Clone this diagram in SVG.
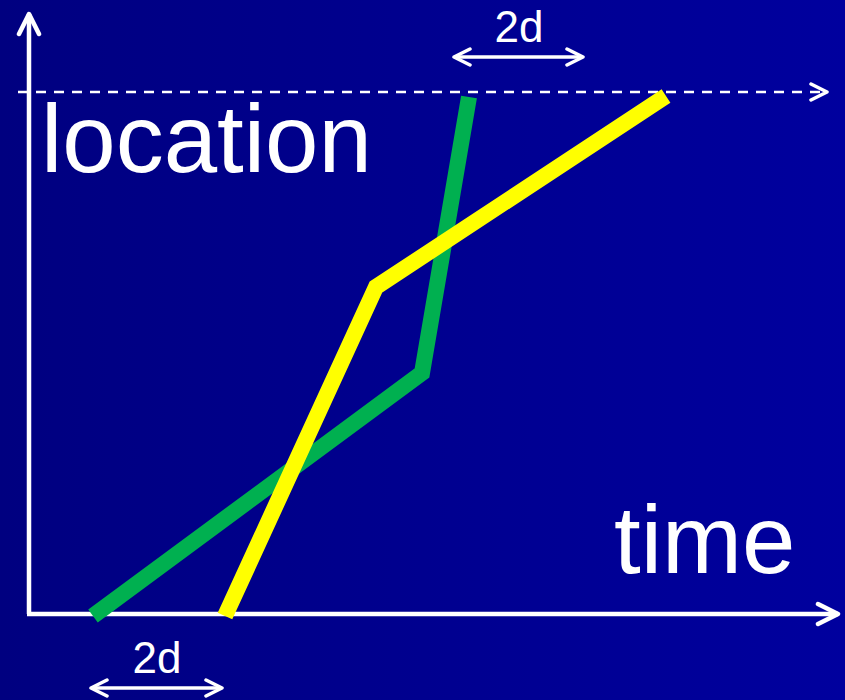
<svg xmlns="http://www.w3.org/2000/svg" width="845" height="700" viewBox="0 0 845 700">
<defs>
<linearGradient id="bg" x1="0" y1="0" x2="1" y2="0">
<stop offset="0" stop-color="#000080"/>
<stop offset="1" stop-color="#00009E"/>
</linearGradient>
<marker id="chev" viewBox="0 0 20 20" refX="18" refY="10" markerWidth="20" markerHeight="20" markerUnits="userSpaceOnUse" orient="auto-start-reverse">
<path d="M2,2 L18,10 L2,18" fill="none" stroke="#fff" stroke-width="3.5" stroke-linecap="round" stroke-linejoin="round"/>
</marker>
<marker id="bigchev" viewBox="0 0 26 26" refX="23" refY="13" markerWidth="26" markerHeight="26" markerUnits="userSpaceOnUse" orient="auto">
<path d="M3,3 L23,13 L3,23" fill="none" stroke="#fff" stroke-width="4.5" stroke-linecap="round" stroke-linejoin="round"/>
</marker>
</defs>
<style>
.lbl{font-family:"Liberation Sans",Arial,sans-serif;fill:#fff}
.axis{stroke:#fff;stroke-width:4.5;fill:none}
.dim{stroke:#fff;stroke-width:3.5;fill:none}
.trace{fill:none;stroke-width:16;stroke-linejoin:miter;stroke-linecap:butt}
</style>
<rect width="845" height="700" fill="url(#bg)"/>
<g id="connectors">
<line id="dashed" x1="18" y1="92" x2="827" y2="92" stroke="#fff" stroke-width="2.5" stroke-dasharray="10,8" marker-end="url(#chev)"/>
<line id="y-axis" class="axis" x1="29" y1="614" x2="29" y2="14" marker-end="url(#bigchev)"/>
<line id="x-axis" class="axis" x1="27" y1="614" x2="838" y2="614" marker-end="url(#bigchev)"/>
<line id="dim-top" class="dim" x1="454" y1="57" x2="583" y2="57" marker-start="url(#chev)" marker-end="url(#chev)"/>
<line id="dim-bottom" class="dim" x1="91" y1="688" x2="222" y2="688" marker-start="url(#chev)" marker-end="url(#chev)"/>
<polyline id="green" class="trace" stroke="#00B050" points="93,616 422,373 469,97"/>
<polyline id="yellow" class="trace" stroke="#FFFF00" points="225,616 376,287 666,96"/>
</g>
<g id="label-location"><text class="lbl" x="41" y="172" font-size="96">location</text></g>
<g id="label-time"><text class="lbl" x="614" y="573" font-size="96">time</text></g>
<g id="label-2d-top"><text class="lbl" x="519" y="42" font-size="44" text-anchor="middle">2d</text></g>
<g id="label-2d-bottom"><text class="lbl" x="157" y="673" font-size="44" text-anchor="middle">2d</text></g>
</svg>
